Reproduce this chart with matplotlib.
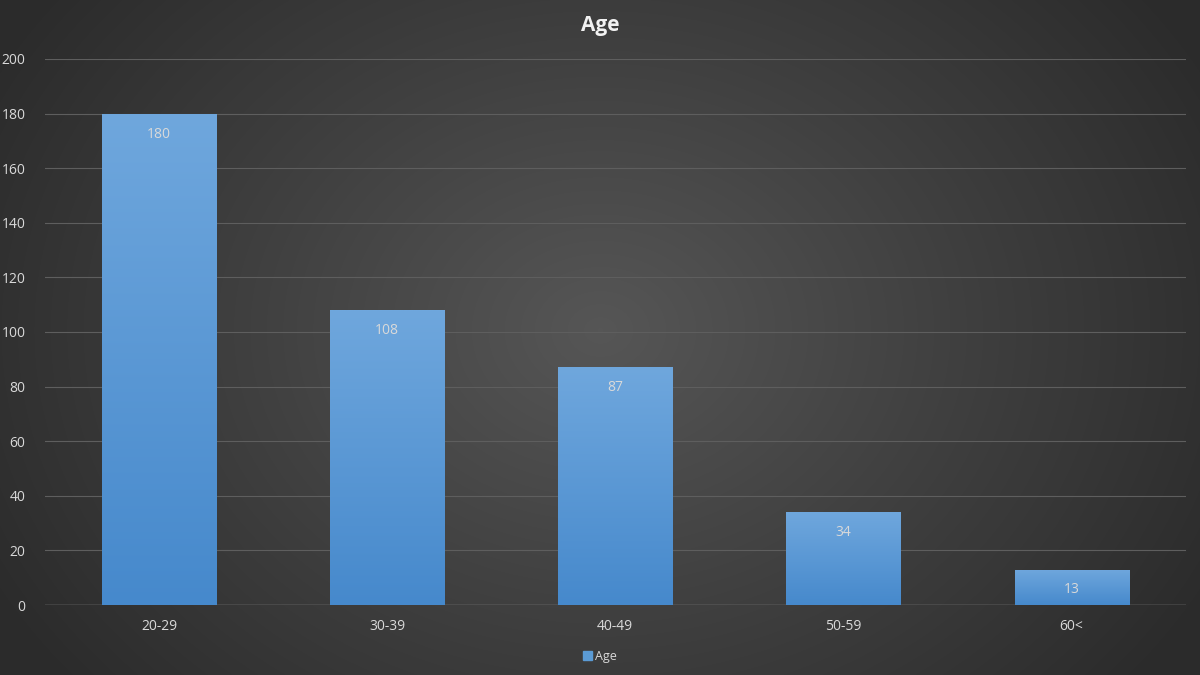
import numpy as np
import matplotlib
matplotlib.use("Agg")
from matplotlib import pyplot as plt
from matplotlib.colors import LinearSegmentedColormap

plt.rcParams['font.family'] = ['Open Sans', 'DejaVu Sans']

categories = ['20-29', '30-39', '40-49', '50-59', '60<']
values = [180, 108, 87, 34, 13]
yticks = [0, 20, 40, 60, 80, 100, 120, 140, 160, 180, 200]
series_name = 'Age'

fig = plt.figure(figsize=(12, 6.75), dpi=100)

# radial gradient background
bg = fig.add_axes([0, 0, 1, 1], zorder=-10)
yy, xx = np.mgrid[0:675, 0:1200]
r = np.sqrt(((xx - 600) / 700.0) ** 2 + ((yy - 330) / 560.0) ** 2)
r = np.clip(r, 0, 1)
bg_cmap = LinearSegmentedColormap.from_list('bg', ['#565656', '#404040', '#2b2b2b'])
bg.imshow(r, cmap=bg_cmap, aspect='auto', extent=[0, 1, 0, 1], vmin=0, vmax=1)
bg.axis('off')

ax = fig.add_axes([0.0375, 0.1037, 0.9505, 0.8089])
ax.patch.set_alpha(0)
x = np.arange(len(categories))
bars = ax.bar(x, values, width=0.5, color='#5b9bd5', zorder=3, label=series_name)

# vertical gradient on bars
bar_cmap = LinearSegmentedColormap.from_list('bar', ['#4689cc', '#6fa7dd'])
grad = np.linspace(0, 1, 256).reshape(-1, 1)
for b, v in zip(bars, values):
    b.set_facecolor('none')
    im = ax.imshow(grad, cmap=bar_cmap, aspect='auto', origin='lower',
                   extent=[b.get_x(), b.get_x() + b.get_width(), 0, v], zorder=3)
    im.set_clip_path(b)
    ax.text(b.get_x() + b.get_width() / 2, v - 7.5, str(v), ha='center', va='center',
            color='#d9d9d9', fontsize=10, zorder=4)

ax.set_xlim(-0.5, len(categories) - 0.5)
ax.set_ylim(0, 200)
ax.set_yticks(yticks)
ax.set_xticks(x)
ax.set_xticklabels(categories)
ax.tick_params(colors='#d9d9d9', labelsize=10, length=0)
ax.tick_params(axis='y', pad=14)
ax.tick_params(axis='x', pad=10)
ax.grid(axis='y', color='#5e5e5e', linewidth=0.8, zorder=0)
ax.axhline(0, color='#8a8a8a', linewidth=1, zorder=2)
for s in ax.spines.values():
    s.set_visible(False)

fig.text(0.5, 0.962, 'Age', ha='center', va='center', color='#f2f2f2',
         fontsize=15, fontweight='bold')

leg = fig.legend(handles=[plt.Rectangle((0, 0), 1, 1, color='#5b9bd5')], labels=[series_name],
                 loc='center', bbox_to_anchor=(0.5, 0.028), frameon=False,
                 handlelength=0.7, handleheight=0.7, handletextpad=0.3, fontsize=9)
for t in leg.get_texts():
    t.set_color('#d9d9d9')

fig.savefig('out.png', dpi=100)
